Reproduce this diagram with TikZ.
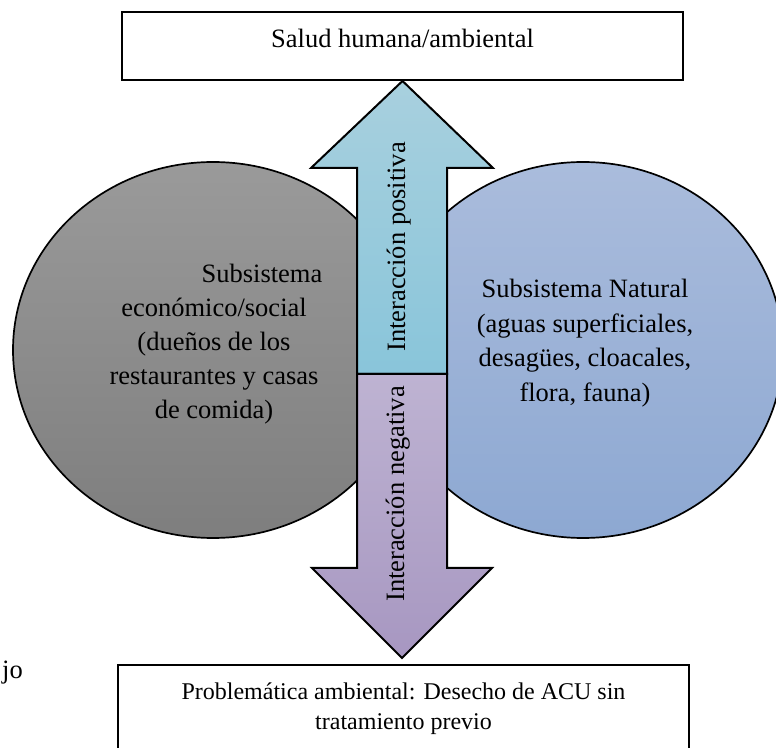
\documentclass[tikz,border=0pt]{standalone}
\usepackage{fontspec}
\setmainfont{Liberation Serif}
\usetikzlibrary{shapes.geometric}
\definecolor{grayT}{RGB}{154,154,154}
\definecolor{grayB}{RGB}{126,126,126}
\definecolor{blueT}{RGB}{170,188,220}
\definecolor{blueB}{RGB}{141,168,210}
\definecolor{upT}{RGB}{168,208,222}
\definecolor{upB}{RGB}{137,197,218}
\definecolor{dnT}{RGB}{190,179,210}
\definecolor{dnB}{RGB}{167,151,193}
\begin{document}
\begin{tikzpicture}[x=1pt,y=1pt,
  circ/.style={ellipse, draw=black, line width=1.7pt, minimum width=400pt, minimum height=376pt, inner sep=0pt},
  box/.style={rectangle, draw=black, line width=2pt, fill=white, inner sep=0pt},
  arrowline/.style={draw=black, line width=2pt, line join=miter},
  txt/.style={font=\fontsize{26.5}{30}\selectfont, anchor=base, inner sep=0pt},
  stxt/.style={font=\fontsize{24}{28}\selectfont, anchor=base, inner sep=0pt},
  vtxt/.style={font=\fontsize{26.5}{30}\selectfont, rotate=90, anchor=base west, inner sep=0pt}]
\useasboundingbox (0,0) rectangle (776,747);
\clip (0,0) rectangle (776,747);
% subsystems
\node[circ, top color=grayT, bottom color=grayB] (econ) at (213,397) {};
\node[circ, top color=blueT, bottom color=blueB] (nat) at (583,397) {};
% boxes
\node[box, minimum width=561pt, minimum height=68pt] (salud) at (402.5,701) {};
\node[box, minimum width=571pt, minimum height=120pt] (prob) at (403.5,22) {};
% arrows
\coordinate (uptip) at (salud.south);
\coordinate (dntip) at (402,89);
\shadedraw[arrowline, top color=upT, bottom color=upB]
  (uptip) -- (493,579) -- (447,579) -- (447,373) -- (357,373) -- (357,579) -- (311,579) -- cycle;
\shadedraw[arrowline, top color=dnT, bottom color=dnB]
  (357,373) -- (447,373) -- (447,179) -- (492,179) -- (dntip) -- (312,179) -- (357,179) -- cycle;
% texts
\node[txt] (saludt) at (402.5,699) {Salud humana/ambiental};
\node[stxt] (prob1) at (403.5,48) {Problemática ambiental: Desecho de ACU sin};
\node[stxt] (prob2) at (403.5,18) {tratamiento previo};
\node[txt] (e1) at (262,464) {Subsistema};
\node[txt] (e2) at (214,430) {económico/social};
\node[txt] (e3) at (214,396) {(dueños de los};
\node[txt] (e4) at (214,362) {restaurantes y casas};
\node[txt] (e5) at (214,328) {de comida)};
\node[txt] (n1) at (585,449) {Subsistema Natural};
\node[txt] (n2) at (585,414.5) {(aguas superficiales,};
\node[txt] (n3) at (585,380) {desagües, cloacales,};
\node[txt] (n4) at (585,345.5) {flora, fauna)};
\node[vtxt] (pos) at (405,395) {Interacción positiva};
\node[vtxt] (neg) at (404,145) {Interacción negativa};
\node[txt, anchor=base west] (jo) at (2,69) {jo};
\end{tikzpicture}
\end{document}
